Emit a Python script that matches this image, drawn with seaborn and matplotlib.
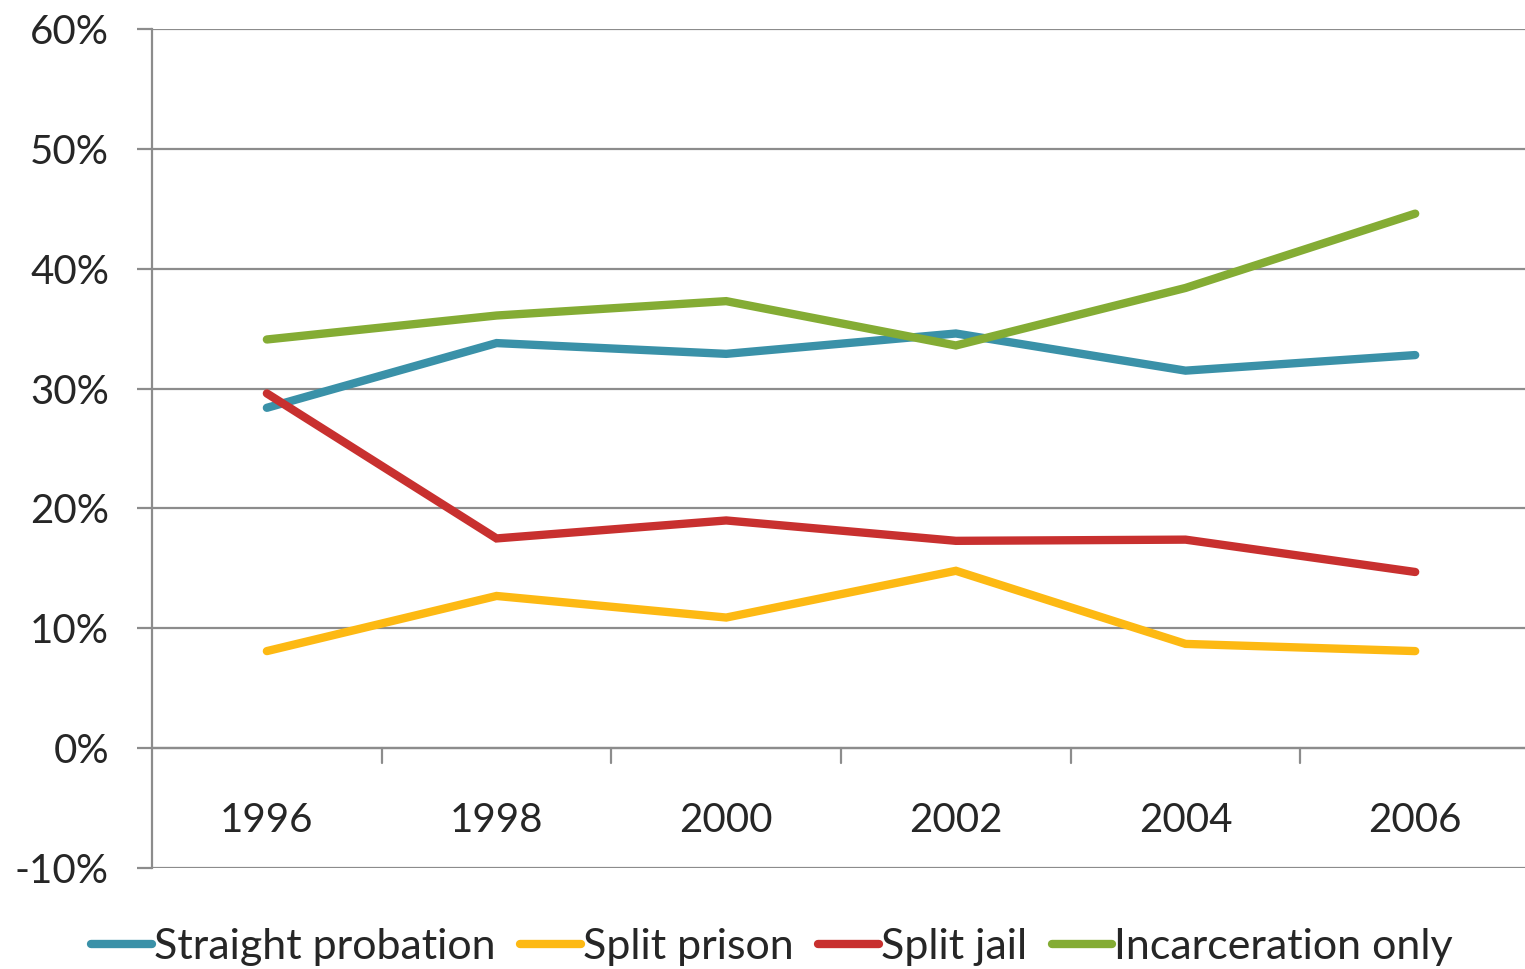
import matplotlib.pyplot as plt
import seaborn as sns
import pandas as pd

# Datos (porcentajes)
years = ["1996", "1998", "2000", "2002", "2004", "2006"]
straight_probation = [28.4, 33.8, 32.9, 34.6, 31.5, 32.8]
split_prison = [8.1, 12.7, 10.9, 14.8, 8.7, 8.1]
split_jail = [29.6, 17.5, 19.0, 17.3, 17.4, 14.7]
incarceration_only = [34.1, 36.1, 37.3, 33.6, 38.4, 44.6]

series_names = ["Straight probation", "Split prison", "Split jail", "Incarceration only"]
colors = ["#3A91A8", "#FDB913", "#C8302F", "#84AC34"]

sns.set_theme(style="white")
plt.rcParams["font.family"] = ["Lato", "DejaVu Sans"]

rows = []
for name, vals in zip(series_names,
                      [straight_probation, split_prison, split_jail, incarceration_only]):
    for i, v in enumerate(vals):
        rows.append({"idx": i, "value": v, "series": name})
df = pd.DataFrame(rows)

fig = plt.figure(figsize=(15.25, 9.69), dpi=100)
# el área del gráfico se extiende un poco más allá del borde derecho
ax = fig.add_axes([0.0997, 0.1042, 0.9036, 0.8658])

sns.lineplot(data=df, x="idx", y="value", hue="series", hue_order=series_names,
             palette=dict(zip(series_names, colors)), linewidth=6,
             solid_capstyle="round", solid_joinstyle="miter", ax=ax, legend=True)

grid_color = "#8C8C8C"
fs = 29
ax.set_xlim(-0.5, len(years) - 0.5)
ax.set_ylim(-10, 60)
ax.set_yticks(range(-10, 61, 10))
ax.set_yticklabels([f"{t}%" for t in range(-10, 61, 10)], fontsize=fs)
ax.yaxis.grid(True, color=grid_color, linewidth=1.6)
ax.set_axisbelow(True)
ax.tick_params(axis="y", length=11, width=1.6, color=grid_color, pad=20, left=True)
ax.set_xticks([])
ax.set_xlabel("")
ax.set_ylabel("")

for side in ["top", "right", "bottom"]:
    ax.spines[side].set_visible(False)
ax.spines["left"].set_color(grid_color)
ax.spines["left"].set_linewidth(1.6)

# Eje horizontal en 0% con marcas entre categorías
ax.axhline(0, color=grid_color, linewidth=1.6, zorder=1)
for b in range(len(years) - 1):
    ax.plot([b + 0.5, b + 0.5], [0, -1.25], color=grid_color, linewidth=1.6, zorder=1)
for i, y in enumerate(years):
    ax.text(i, -6, y, ha="center", va="center", fontsize=fs)

handles, labels = ax.get_legend_handles_labels()
for h in handles:
    h.set_linewidth(6)
    h.set_solid_capstyle("round")
ax.legend(handles, labels, loc="center", bbox_to_anchor=(0.45, -0.094),
          ncol=4, frameon=False, fontsize=31, handlelength=1.4,
          handletextpad=0.05, columnspacing=0.58, borderaxespad=0)

fig.savefig("out.png", dpi=100)
